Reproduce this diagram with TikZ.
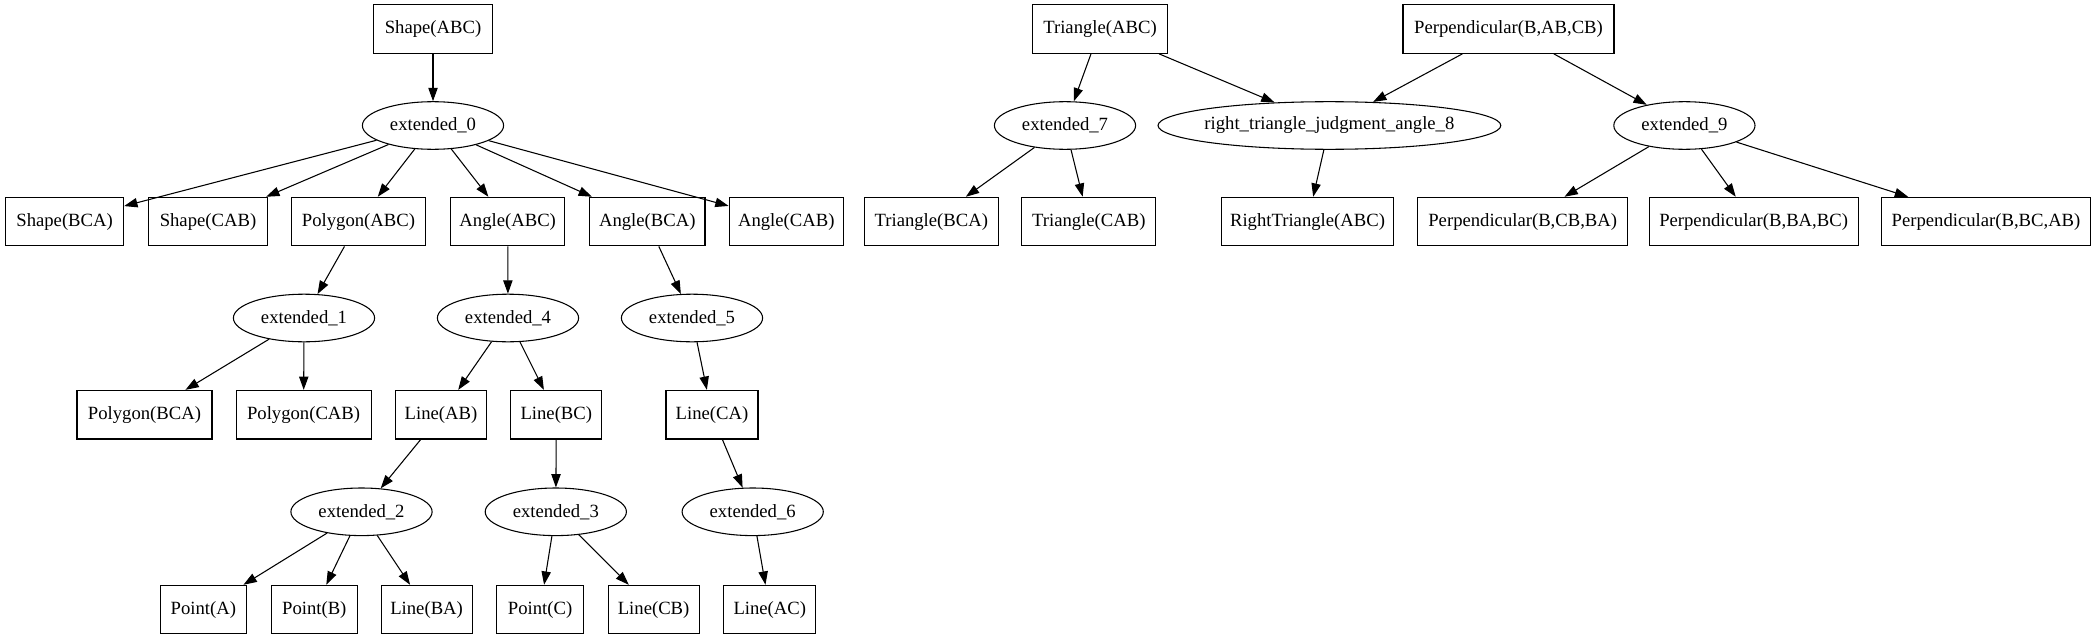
\documentclass[tikz,border=0pt]{standalone}
\usepackage{fontspec}
\setmainfont{Liberation Serif}
\usetikzlibrary{shapes.geometric,arrows.meta}
\tikzset{
  box/.style={draw, rectangle, line width=0.8pt, minimum height=36.45pt, inner xsep=2pt, minimum width=#1*0.75pt},
  ell/.style={draw, ellipse, line width=0.8pt, inner sep=0pt, minimum height=35.7pt, minimum width=#1*0.75pt},
  arr/.style={line width=0.8pt, -{Triangle[length=10pt,width=7pt]}}
}
\begin{document}
\begin{tikzpicture}[x=0.75pt, y=-0.75pt, font=\fontsize{14pt}{16pt}\selectfont]
\useasboundingbox (0,0) rectangle (2097,635);
% row 1
\node[box=119] (shapeABC) at (433,29) {Shape(ABC)};
\node[box=135] (triABC) at (1100,29) {Triangle(ABC)};
\node[box=211] (perpABCB) at (1508.5,29) {Perpendicular(B,AB,CB)};
% row 2
\node[ell=141.2] (e0) at (433,125.5) {\makebox[0pt]{extended\_0}};
\node[ell=141.2] (e7) at (1065,125.5) {\makebox[0pt]{extended\_7}};
\node[ell=342.8] (e8) at (1329.4,125.5) {\makebox[0pt]{right\_triangle\_judgment\_angle\_8}};
\node[ell=141.2] (e9) at (1684.4,125.5) {\makebox[0pt]{extended\_9}};
% row 3
\node[box=118] (shapeBCA) at (64.6,221.6) {Shape(BCA)};
\node[box=119] (shapeCAB) at (208,221.6) {Shape(CAB)};
\node[box=134.6] (polyABC) at (358.5,221.6) {Polygon(ABC)};
\node[box=114] (angABC) at (507.7,221.6) {Angle(ABC)};
\node[box=115.4] (angBCA) at (647.3,221.6) {Angle(BCA)};
\node[box=114.3] (angCAB) at (786.3,221.6) {Angle(CAB)};
\node[box=134] (triBCA) at (931.3,221.6) {Triangle(BCA)};
\node[box=134] (triCAB) at (1088.8,221.6) {Triangle(CAB)};
\node[box=172] (rtABC) at (1307.5,221.6) {RightTriangle(ABC)};
\node[box=210] (perpCBBA) at (1522.7,221.6) {Perpendicular(B,CB,BA)};
\node[box=209] (perpBABC) at (1753.6,221.6) {Perpendicular(B,BA,BC)};
\node[box=209] (perpBCAB) at (1986,221.6) {Perpendicular(B,BC,AB)};
% row 4
\node[ell=141.2] (e1) at (304,318) {\makebox[0pt]{extended\_1}};
\node[ell=141.2] (e4) at (508,318) {\makebox[0pt]{extended\_4}};
\node[ell=141.2] (e5) at (692,318) {\makebox[0pt]{extended\_5}};
% row 5
\node[box=135] (polyBCA) at (144.5,414.7) {Polygon(BCA)};
\node[box=135] (polyCAB) at (303.6,414.7) {Polygon(CAB)};
\node[box=91] (lineAB) at (441,414.7) {Line(AB)};
\node[box=91] (lineBC) at (556.3,414.7) {Line(BC)};
\node[box=92] (lineCA) at (712,414.7) {Line(CA)};
% row 6
\node[ell=141.2] (e2) at (361.5,511.8) {\makebox[0pt]{extended\_2}};
\node[ell=141.2] (e3) at (555.8,511.8) {\makebox[0pt]{extended\_3}};
\node[ell=141.2] (e6) at (752.7,511.8) {\makebox[0pt]{extended\_6}};
% row 7
\node[box=86] (ptA) at (203.3,609.6) {Point(A)};
\node[box=86] (ptB) at (314.3,609.6) {Point(B)};
\node[box=91] (lineBA) at (426.6,609.6) {Line(BA)};
\node[box=87] (ptC) at (540.1,609.6) {Point(C)};
\node[box=91] (lineCB) at (653.6,609.6) {Line(CB)};
\node[box=92] (lineAC) at (769.8,609.6) {Line(AC)};
% edges
\draw[arr] (shapeABC) -- (e0);
\foreach \t in {shapeBCA,shapeCAB,polyABC,angABC,angBCA,angCAB} \draw[arr] (e0) -- (\t);
\draw[arr] (polyABC) -- (e1);
\draw[arr] (angABC) -- (e4);
\draw[arr] (angBCA) -- (e5);
\draw[arr] (e1) -- (polyBCA);
\draw[arr] (e1) -- (polyCAB);
\draw[arr] (e4) -- (lineAB);
\draw[arr] (e4) -- (lineBC);
\draw[arr] (e5) -- (lineCA);
\draw[arr] (lineAB) -- (e2);
\draw[arr] (lineBC) -- (e3);
\draw[arr] (lineCA) -- (e6);
\draw[arr] (e2) -- (ptA);
\draw[arr] (e2) -- (ptB);
\draw[arr] (e2) -- (lineBA);
\draw[arr] (e3) -- (ptC);
\draw[arr] (e3) -- (lineCB);
\draw[arr] (e6) -- (lineAC);
\draw[arr] (triABC) -- (e7);
\draw[arr] (triABC) -- (e8);
\draw[arr] (perpABCB) -- (e8);
\draw[arr] (perpABCB) -- (e9);
\draw[arr] (e7) -- (triBCA);
\draw[arr] (e7) -- (triCAB);
\draw[arr] (e8) -- (rtABC);
\draw[arr] (e9) -- (perpCBBA);
\draw[arr] (e9) -- (perpBABC);
\draw[arr] (e9) -- (perpBCAB);
\end{tikzpicture}
\end{document}
